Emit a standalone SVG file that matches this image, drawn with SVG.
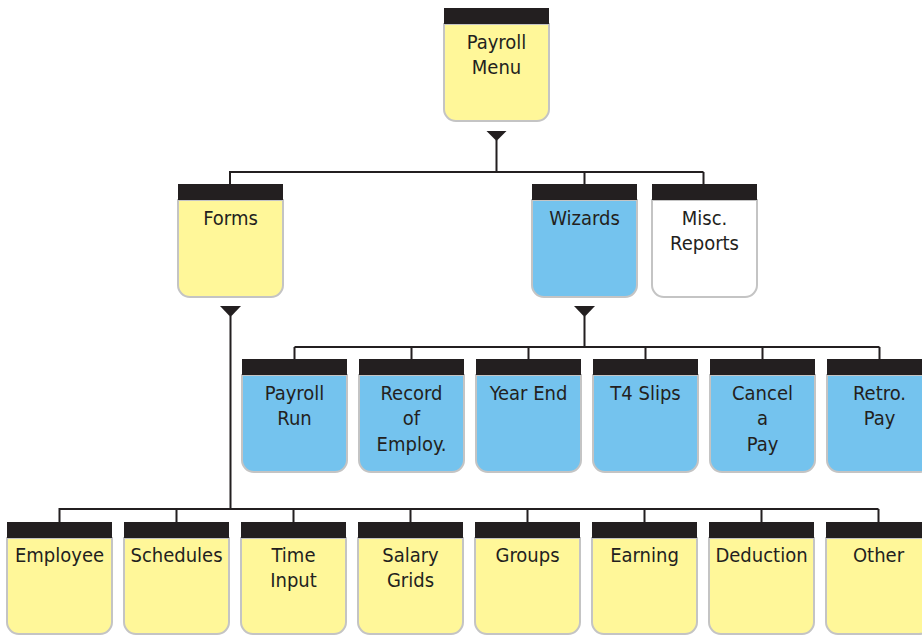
<svg xmlns="http://www.w3.org/2000/svg" width="922" height="635" viewBox="0 0 922 635">
<style>
.bar{fill:#231f20}
.body{stroke:#c4c4c4;stroke-width:2}
.y{fill:#fff799}
.b{fill:#74c3ee}
.w{fill:#ffffff}
.t{font-family:"DejaVu Sans Condensed","DejaVu Sans",sans-serif;font-stretch:condensed;font-size:20px;fill:#231f20;text-anchor:middle}
.ln{fill:none;stroke:#231f20;stroke-width:2}
.tri{fill:#231f20}
</style>
<defs>
<path id="shape" d="M0,16 H105 V101 A12,12 0 0 1 93,113 H12 A12,12 0 0 1 0,101 Z"/>
</defs>
<g id="connectors">
<polygon class="tri" points="486.5,131 506.5,131 496.5,141"/>
<path class="ln" d="M496.5,140 V172 M229,172 H703.5 M230,172 V184 M584.5,172 V184 M703.5,172 V184"/>
<polygon class="tri" points="220,306 241,306 230.5,317"/>
<path class="ln" d="M230.5,316 V509 M58.5,509 H878.5 M59.5,509 V522 M176.5,509 V522 M293.5,509 V522 M410.5,509 V522 M527.5,509 V522 M644.5,509 V522 M761.5,509 V522 M878.5,509 V522"/>
<polygon class="tri" points="574,306 595,306 584.5,317"/>
<path class="ln" d="M584.5,316 V347 M294.5,347 H879.5 M294.5,347 V359 M411.5,347 V359 M528.5,347 V359 M645.5,347 V359 M762.5,347 V359 M879.5,347 V359"/>
</g>
<g id="payroll-menu" transform="translate(444,8)">
<path class="body y" d="M0,16 H105 V101 A12,12 0 0 1 93,113 H12 A12,12 0 0 1 0,101 Z"/>
<rect class="bar" x="0" y="0" width="105" height="16"/>
<text class="t" x="52.5" y="41">Payroll</text>
<text class="t" x="52.5" y="66">Menu</text>
</g>
<g id="forms" transform="translate(178,184)">
<path class="body y" d="M0,16 H105 V101 A12,12 0 0 1 93,113 H12 A12,12 0 0 1 0,101 Z"/>
<rect class="bar" x="0" y="0" width="105" height="16"/>
<text class="t" x="52.5" y="41">Forms</text>
</g>
<g id="wizards" transform="translate(532,184)">
<path class="body b" d="M0,16 H105 V101 A12,12 0 0 1 93,113 H12 A12,12 0 0 1 0,101 Z"/>
<rect class="bar" x="0" y="0" width="105" height="16"/>
<text class="t" x="52.5" y="41">Wizards</text>
</g>
<g id="misc-reports" transform="translate(652,184)">
<path class="body w" d="M0,16 H105 V101 A12,12 0 0 1 93,113 H12 A12,12 0 0 1 0,101 Z"/>
<rect class="bar" x="0" y="0" width="105" height="16"/>
<text class="t" x="52.5" y="41">Misc.</text>
<text class="t" x="52.5" y="66">Reports</text>
</g>
<g id="payroll-run" transform="translate(242,359)">
<path class="body b" d="M0,16 H105 V101 A12,12 0 0 1 93,113 H12 A12,12 0 0 1 0,101 Z"/>
<rect class="bar" x="0" y="0" width="105" height="16"/>
<text class="t" x="52.5" y="41">Payroll</text>
<text class="t" x="52.5" y="66">Run</text>
</g>
<g id="record-of-employ" transform="translate(359,359)">
<path class="body b" d="M0,16 H105 V101 A12,12 0 0 1 93,113 H12 A12,12 0 0 1 0,101 Z"/>
<rect class="bar" x="0" y="0" width="105" height="16"/>
<text class="t" x="52.5" y="41">Record</text>
<text class="t" x="52.5" y="66">of</text>
<text class="t" x="52.5" y="92">Employ.</text>
</g>
<g id="year-end" transform="translate(476,359)">
<path class="body b" d="M0,16 H105 V101 A12,12 0 0 1 93,113 H12 A12,12 0 0 1 0,101 Z"/>
<rect class="bar" x="0" y="0" width="105" height="16"/>
<text class="t" x="52.5" y="41">Year End</text>
</g>
<g id="t4-slips" transform="translate(593,359)">
<path class="body b" d="M0,16 H105 V101 A12,12 0 0 1 93,113 H12 A12,12 0 0 1 0,101 Z"/>
<rect class="bar" x="0" y="0" width="105" height="16"/>
<text class="t" x="52.5" y="41">T4 Slips</text>
</g>
<g id="cancel-a-pay" transform="translate(710,359)">
<path class="body b" d="M0,16 H105 V101 A12,12 0 0 1 93,113 H12 A12,12 0 0 1 0,101 Z"/>
<rect class="bar" x="0" y="0" width="105" height="16"/>
<text class="t" x="52.5" y="41">Cancel</text>
<text class="t" x="52.5" y="66">a</text>
<text class="t" x="52.5" y="92">Pay</text>
</g>
<g id="retro-pay" transform="translate(827,359)">
<path class="body b" d="M0,16 H105 V101 A12,12 0 0 1 93,113 H12 A12,12 0 0 1 0,101 Z"/>
<rect class="bar" x="0" y="0" width="105" height="16"/>
<text class="t" x="52.5" y="41">Retro.</text>
<text class="t" x="52.5" y="66">Pay</text>
</g>
<g id="employee" transform="translate(7,522)">
<path class="body y" d="M0,16 H105 V100 A12,12 0 0 1 93,112 H12 A12,12 0 0 1 0,100 Z"/>
<rect class="bar" x="0" y="0" width="105" height="16"/>
<text class="t" x="52.5" y="40">Employee</text>
</g>
<g id="schedules" transform="translate(124,522)">
<path class="body y" d="M0,16 H105 V100 A12,12 0 0 1 93,112 H12 A12,12 0 0 1 0,100 Z"/>
<rect class="bar" x="0" y="0" width="105" height="16"/>
<text class="t" x="52.5" y="40">Schedules</text>
</g>
<g id="time-input" transform="translate(241,522)">
<path class="body y" d="M0,16 H105 V100 A12,12 0 0 1 93,112 H12 A12,12 0 0 1 0,100 Z"/>
<rect class="bar" x="0" y="0" width="105" height="16"/>
<text class="t" x="52.5" y="40">Time</text>
<text class="t" x="52.5" y="65">Input</text>
</g>
<g id="salary-grids" transform="translate(358,522)">
<path class="body y" d="M0,16 H105 V100 A12,12 0 0 1 93,112 H12 A12,12 0 0 1 0,100 Z"/>
<rect class="bar" x="0" y="0" width="105" height="16"/>
<text class="t" x="52.5" y="40">Salary</text>
<text class="t" x="52.5" y="65">Grids</text>
</g>
<g id="groups" transform="translate(475,522)">
<path class="body y" d="M0,16 H105 V100 A12,12 0 0 1 93,112 H12 A12,12 0 0 1 0,100 Z"/>
<rect class="bar" x="0" y="0" width="105" height="16"/>
<text class="t" x="52.5" y="40">Groups</text>
</g>
<g id="earning" transform="translate(592,522)">
<path class="body y" d="M0,16 H105 V100 A12,12 0 0 1 93,112 H12 A12,12 0 0 1 0,100 Z"/>
<rect class="bar" x="0" y="0" width="105" height="16"/>
<text class="t" x="52.5" y="40">Earning</text>
</g>
<g id="deduction" transform="translate(709,522)">
<path class="body y" d="M0,16 H105 V100 A12,12 0 0 1 93,112 H12 A12,12 0 0 1 0,100 Z"/>
<rect class="bar" x="0" y="0" width="105" height="16"/>
<text class="t" x="52.5" y="40">Deduction</text>
</g>
<g id="other" transform="translate(826,522)">
<path class="body y" d="M0,16 H105 V100 A12,12 0 0 1 93,112 H12 A12,12 0 0 1 0,100 Z"/>
<rect class="bar" x="0" y="0" width="105" height="16"/>
<text class="t" x="52.5" y="40">Other</text>
</g>
</svg>
